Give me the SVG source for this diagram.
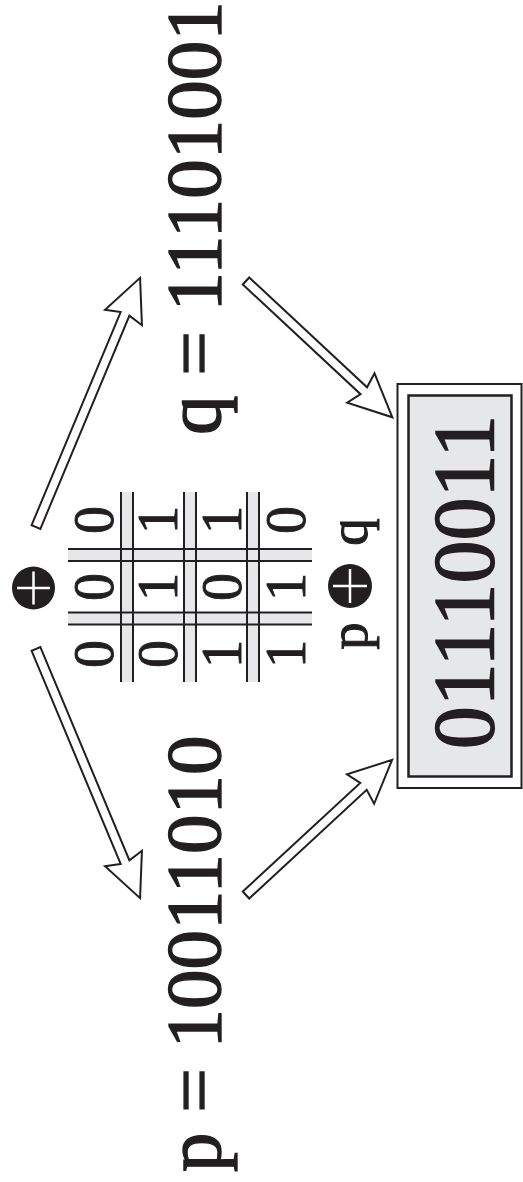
<svg xmlns="http://www.w3.org/2000/svg" width="523" height="1182" viewBox="0 0 523 1182">
<style>
text{font-family:"Liberation Serif","Times New Roman",serif;fill:#231f20;stroke:#231f20}
.big{font-size:79px;stroke-width:1.4}
.res{font-size:86px;stroke-width:1.5}
.cell{font-size:56px;text-anchor:middle;stroke-width:1}
.lbl{font-size:55px;text-anchor:middle;stroke-width:1}
.arrow{fill:#fff;stroke:#231f20;stroke-width:2;stroke-linejoin:miter}
.band{fill:#e6e7e8}
.bl{stroke:#231f20;stroke-width:2}
.plus{stroke:#fff;stroke-width:2.5}
</style>
<rect width="523" height="1182" fill="#fff"/>
<g id="q-value"><text class="big" transform="translate(220,435) rotate(-90)">q = 11101001</text></g>
<g id="p-value"><text class="big" transform="translate(220,1172) rotate(-90)">p = 10011010</text></g>
<g id="xor-op">
<circle cx="33.5" cy="588" r="21.5" fill="#231f20"/>
<line class="plus" x1="17" y1="588" x2="50" y2="588"/>
<line class="plus" x1="33.5" y1="571.5" x2="33.5" y2="604.5"/>
</g>
<g id="xor-table">
<rect class="band" x="121" y="492" width="12" height="190"/>
<rect class="band" x="184" y="492" width="12" height="190"/>
<rect class="band" x="247" y="492" width="12" height="190"/>
<rect class="band" x="68" y="549" width="244" height="12"/>
<rect class="band" x="68" y="612.5" width="244" height="12"/>
<g class="bl">
<line x1="121" y1="492" x2="121" y2="682"/><line x1="133" y1="492" x2="133" y2="682"/>
<line x1="184" y1="492" x2="184" y2="682"/><line x1="196" y1="492" x2="196" y2="682"/>
<line x1="247" y1="492" x2="247" y2="682"/><line x1="259" y1="492" x2="259" y2="682"/>
<line x1="68" y1="549" x2="312" y2="549"/><line x1="68" y1="561" x2="312" y2="561"/>
<line x1="68" y1="612.5" x2="312" y2="612.5"/><line x1="68" y1="624.5" x2="312" y2="624.5"/>
</g>
<text class="cell" transform="translate(113,654) rotate(-90)">0</text>
<text class="cell" transform="translate(113,587) rotate(-90)">0</text>
<text class="cell" transform="translate(113,520) rotate(-90)">0</text>
<text class="cell" transform="translate(177,654) rotate(-90)">0</text>
<text class="cell" transform="translate(177,587) rotate(-90)">1</text>
<text class="cell" transform="translate(177,520) rotate(-90)">1</text>
<text class="cell" transform="translate(241,654) rotate(-90)">1</text>
<text class="cell" transform="translate(241,587) rotate(-90)">0</text>
<text class="cell" transform="translate(241,520) rotate(-90)">1</text>
<text class="cell" transform="translate(305,654) rotate(-90)">1</text>
<text class="cell" transform="translate(305,587) rotate(-90)">1</text>
<text class="cell" transform="translate(305,520) rotate(-90)">0</text>
</g>
<g id="label-pxorq">
<text class="lbl" transform="translate(367,636) rotate(-90)">p</text>
<circle cx="350" cy="586" r="22" fill="#231f20"/>
<line class="plus" x1="333" y1="586" x2="367" y2="586"/>
<line class="plus" x1="350" y1="569" x2="350" y2="603"/>
<text class="lbl" transform="translate(367,532) rotate(-90)">q</text>
</g>
<g id="result">
<rect x="397.5" y="384" width="124" height="404" fill="#fff" stroke="#231f20" stroke-width="2"/>
<rect x="408.5" y="395.5" width="103" height="381" fill="#e6e7e8" stroke="#231f20" stroke-width="2.5"/>
<text class="res" text-anchor="middle" transform="translate(493,582) rotate(-90)">01110011</text>
</g>
<g id="connectors">
<path class="arrow" transform="translate(36,527) rotate(-67.33)" d="M0,-4.75 H231 L227,-20 L270,0 L227,20 L231,4.75 H0 Z"/>
<path class="arrow" transform="translate(36,649) rotate(67.33)" d="M0,-4.75 H231 L227,-20 L270,0 L227,20 L231,4.75 H0 Z"/>
<path class="arrow" transform="translate(246,281) rotate(42.97)" d="M0,-4.75 H161 L157,-20 L200,0 L157,20 L161,4.75 H0 Z"/>
<path class="arrow" transform="translate(246,895) rotate(-42.76)" d="M0,-4.75 H160 L156,-20 L199,0 L156,20 L160,4.75 H0 Z"/>
</g>
</svg>
